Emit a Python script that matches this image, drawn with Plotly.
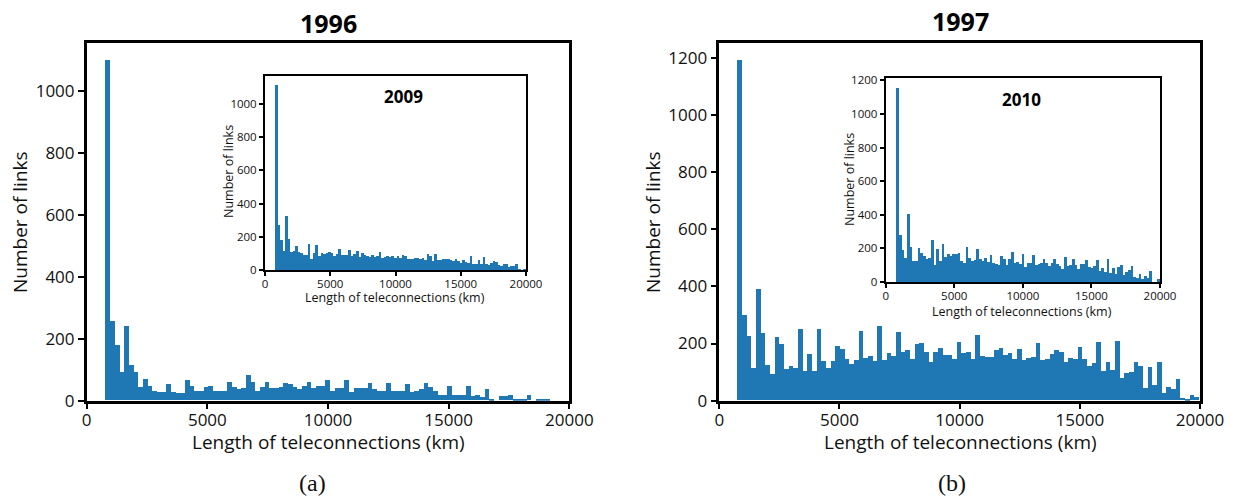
import plotly.graph_objects as go

# ---- data (counts per distance bin) ----
BIN_START_KM = 765
BIN_WIDTH_KM = 194
counts_1996 = [1100, 258, 178, 92, 242, 116, 92, 42, 68, 48,
               29, 26, 26, 52, 26, 23, 23, 65, 45, 29,
               29, 42, 45, 32, 32, 32, 61, 42, 36, 39,
               81, 58, 29, 42, 58, 39, 39, 42, 55, 52,
               42, 36, 48, 61, 39, 48, 45, 65, 29, 39,
               39, 65, 26, 39, 39, 39, 55, 36, 32, 32,
               55, 32, 32, 32, 52, 26, 32, 36, 55, 42,
               32, 16, 19, 45, 19, 16, 19, 45, 13, 16,
               10, 36, 6, 0, 13, 13, 16, 3, 3, 6,
               19, 0, 3, 3, 3, 0, 0, 0, 0]
counts_1997 = [1190, 298, 225, 114, 389, 237, 124, 93, 222, 197,
               110, 121, 114, 249, 103, 162, 103, 249, 138, 114,
               138, 190, 180, 145, 128, 142, 242, 148, 155, 138,
               260, 142, 166, 155, 239, 170, 176, 145, 197, 201,
               170, 135, 170, 183, 159, 159, 145, 204, 165, 169,
               145, 229, 155, 152, 152, 176, 183, 159, 166, 145,
               180, 142, 148, 152, 201, 142, 145, 162, 176, 169,
               135, 148, 145, 187, 145, 121, 131, 204, 103, 135,
               107, 208, 79, 96, 100, 135, 121, 44, 117, 55,
               135, 27, 48, 41, 75, 9, 2, 20, 13]
counts_2009 = [1116, 270, 184, 114, 330, 190, 108, 114, 144, 112,
               102, 90, 90, 160, 70, 106, 150, 86, 104, 100,
               106, 110, 106, 86, 96, 126, 90, 94, 94, 120,
               86, 100, 114, 78, 102, 90, 86, 78, 94, 78,
               84, 110, 74, 82, 86, 78, 86, 76, 88, 74,
               94, 84, 68, 70, 70, 76, 74, 66, 72, 64,
               100, 86, 58, 96, 62, 60, 70, 66, 68, 60,
               54, 68, 54, 46, 60, 50, 46, 84, 40, 38,
               60, 40, 80, 36, 30, 42, 56, 50, 32, 28,
               36, 40, 22, 24, 26, 36, 4, 0, 10]
counts_2010 = [1154, 275, 186, 144, 405, 204, 126, 123, 202, 168,
               152, 136, 144, 249, 97, 192, 121, 225, 148, 162,
               152, 166, 162, 172, 123, 113, 207, 144, 123, 130,
               192, 136, 126, 144, 117, 160, 113, 105, 99, 150,
               138, 99, 136, 178, 109, 119, 103, 166, 85, 111,
               111, 156, 101, 103, 111, 134, 111, 93, 111, 138,
               107, 93, 77, 148, 93, 97, 136, 99, 77, 105,
               105, 130, 89, 81, 93, 128, 63, 79, 59, 136,
               53, 79, 43, 85, 99, 38, 57, 69, 91, 30,
               22, 47, 14, 32, 20, 61, 0, 0, 14]
x_ticks = [0, 5000, 10000, 15000, 20000]
x_tick_labels = ["0", "5000", "10000", "15000", "20000"]
y_ticks_main_a = [0, 200, 400, 600, 800, 1000]
y_ticks_main_b = [0, 200, 400, 600, 800, 1000, 1200]
y_ticks_inset_a = [0, 200, 400, 600, 800, 1000]
y_ticks_inset_b = [0, 200, 400, 600, 800, 1000, 1200]

bin_centers = [BIN_START_KM + BIN_WIDTH_KM * (i + 0.5) for i in range(len(counts_1996))]

W, H = 1235, 498
BLUE = "#1f77b4"
FONT = "Open Sans"
TXT = "#111111"

def px(x):
    return x / W

def py(y):
    return 1 - y / H

fig = go.Figure()
series = [(counts_1996, "x", "y"), (counts_1997, "x2", "y2"),
          (counts_2009, "x3", "y3"), (counts_2010, "x4", "y4")]
for vals, xa, ya in series:
    fig.add_trace(go.Bar(x=bin_centers, y=vals, width=BIN_WIDTH_KM,
                         marker=dict(color=BLUE, line=dict(width=0)),
                         xaxis=xa, yaxis=ya, showlegend=False,
                         hoverinfo="x+y"))

def xax(domain, anchor, size, lw, tl, so):
    return dict(domain=domain, anchor=anchor, range=[0, 20000],
                tickvals=x_ticks, ticktext=x_tick_labels, automargin=False,
                showgrid=False, zeroline=False, showline=True, mirror=True,
                linecolor="black", linewidth=lw, ticks="outside", ticklen=tl,
                tickwidth=1.5, tickcolor="black", ticklabelstandoff=so,
                tickfont=dict(family=FONT, size=size, color=TXT))

def yax(domain, anchor, rng, tv, size, lw, tl):
    return dict(domain=domain, anchor=anchor, range=rng, tickvals=tv,
                ticktext=[str(v) for v in tv], automargin=False,
                showgrid=False, zeroline=False, showline=True, mirror=True,
                linecolor="black", linewidth=lw, ticks="outside", ticklen=tl,
                tickwidth=1.5, tickcolor="black",
                tickfont=dict(family=FONT, size=size, color=TXT))

main_y = [py(400.7), py(43.3)]
fig.update_layout(
    width=W, height=H, margin=dict(l=0, r=0, t=0, b=0, autoexpand=False),
    paper_bgcolor="white", plot_bgcolor="rgba(0,0,0,0)",
    bargap=0,
    xaxis=xax([px(86.7), px(569.3)], "y", 17, 2.5, 6, -4),
    yaxis=yax(main_y, "x", [0, 1155], y_ticks_main_a, 17, 2.5, 6),
    xaxis2=xax([px(719.3), px(1200)], "y2", 17, 2.5, 6, -4),
    yaxis2=yax(main_y, "x2", [0, 1250], y_ticks_main_b, 17, 2.5, 6),
    xaxis3=xax([px(265), px(526)], "y3", 11.5, 2, 4, -2),
    yaxis3=yax([py(270), py(75.7)], "x3", [0, 1170], y_ticks_inset_a, 11.5, 2, 4),
    xaxis4=xax([px(885.7), px(1160)], "y4", 11.5, 2, 4, -2),
    yaxis4=yax([py(282), py(78.3)], "x4", [0, 1212], y_ticks_inset_b, 11.5, 2, 4),
)

def ann(text, x, y, size, bold=False, angle=0, family=FONT):
    fig.add_annotation(text=f"<b>{text}</b>" if bold else text,
                       x=px(x), y=py(y), xref="paper", yref="paper",
                       showarrow=False, textangle=angle,
                       xanchor="center", yanchor="middle",
                       font=dict(family=family, size=size, color=TXT if not bold else "black"))

# titles
ann("1996", 328, 23, 25, bold=True)
ann("1997", 960, 21, 25, bold=True)
ann("2009", 403, 97, 17, bold=True)
ann("2010", 1021, 99, 17, bold=True)
# main axis labels
ann("Number of links", 20, 222, 19, angle=-90)
ann("Number of links", 653, 222, 19, angle=-90)
ann("Length of teleconnections (km)", 328, 442, 19)
ann("Length of teleconnections (km)", 960, 442, 19)
# inset axis labels
ann("Number of links", 228, 172, 12.5, angle=-90)
ann("Number of links", 849, 180, 12.5, angle=-90)
ann("Length of teleconnections (km)", 395, 297, 12.5)
ann("Length of teleconnections (km)", 1022, 311, 12.5)
# panel labels
ann("(a)", 312, 483, 24, family="Liberation Serif")
ann("(b)", 952, 483, 24, family="Liberation Serif")

fig.write_html("out.html", config={"displayModeBar": False},
               post_script="document.body.style.margin='0';document.body.style.padding='0';")
